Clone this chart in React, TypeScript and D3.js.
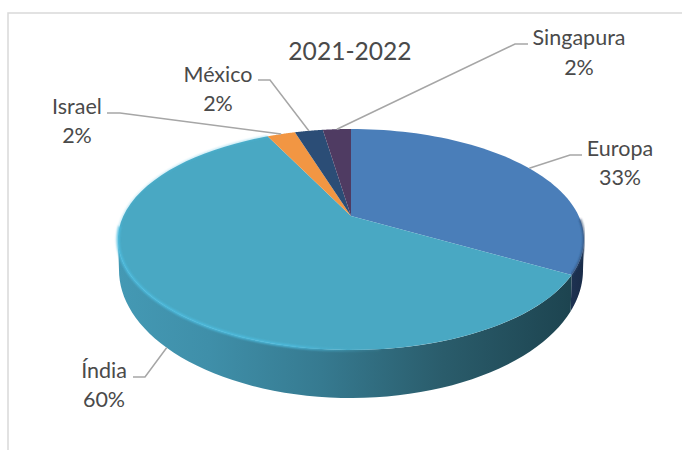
import React from "react";
import * as d3 from "d3";

const title = "2021-2022";
const categories = ["Europa", "Índia", "Israel", "México", "Singapura"];
const shares = [33.4, 59.6, 2.4, 2.4, 2.4];
const topColors = ["#4a7eb9", "#49a8c3", "#f29643", "#2b4d76", "#4f3b62"];

// Projection of a tilted disc: k sets the perspective foreshortening.
const k = 0.2126;
const cx = 351;
const topRing = { cy: 216, a: 227.7, b: 105.5 };
const lowRing = { cy: 242.8, a: 226.7, b: 122.2 };

type Ring = typeof topRing;
const project = (r: Ring, t: number): [number, number] => {
  const w = 1 + k * Math.cos(t);
  return [cx + (r.a * Math.sin(t)) / w, r.cy - (r.b * Math.cos(t)) / w];
};
const arcPoints = (r: Ring, t0: number, t1: number) =>
  d3.range(0, 61).map((i) => project(r, t0 + ((t1 - t0) * i) / 60));

const line = d3.line();
const pieAngles = d3.pie<number>().sort(null)(shares);
const fmtPct = (v: number) => `${Math.round(v)}%`;

const silhouetteRight = Math.acos(-k);
const silhouetteLeft = 2 * Math.PI - silhouetteRight;

const wall = (t0: number, t1: number) =>
  line([...arcPoints(topRing, t0, t1), ...arcPoints(lowRing, t1, t0)]) + "Z";

// Label placement and leader elbows for each slice.
const labelLayout = [
  { x: 620, y1: 156, y2: 185, elbow: [570, 155], end: [582, 155] },
  { x: 104, y1: 378, y2: 407, elbow: [145, 377], end: [133, 377] },
  { x: 77, y1: 114, y2: 143, elbow: [120, 113], end: [107, 113] },
  { x: 218, y1: 82, y2: 111, elbow: [270, 80], end: [258, 80] },
  { x: 579, y1: 45, y2: 75, elbow: [515, 44], end: [528, 44] },
];

export default function App() {
  const europa = pieAngles[0];
  return (
    <svg
      width={682}
      height={450}
      style={{ position: "absolute", left: 0, top: 0, background: "#fff" }}
      fontFamily="Lato, 'Open Sans', sans-serif"
    >
      <defs>
        <linearGradient id="wallIndia" gradientUnits="userSpaceOnUse" x1={118} x2={570} y1={0} y2={0}>
          <stop offset="0" stopColor="#4499b4" />
          <stop offset="0.2" stopColor="#3f8fa9" />
          <stop offset="0.45" stopColor="#367a90" />
          <stop offset="0.72" stopColor="#2a5c6b" />
          <stop offset="1" stopColor="#1d4450" />
        </linearGradient>
        <linearGradient id="wallEuropa" gradientUnits="userSpaceOnUse" x1={565} x2={584} y1={0} y2={0}>
          <stop offset="0" stopColor="#1f3556" />
          <stop offset="1" stopColor="#1a2c48" />
        </linearGradient>
        <linearGradient id="rimIndia" gradientUnits="userSpaceOnUse" x1={118} x2={370} y1={0} y2={0}>
          <stop offset="0" stopColor="#4dbde0" />
          <stop offset="0.7" stopColor="#4dbde0" />
          <stop offset="1" stopColor="#49a8c3" stopOpacity={0.2} />
        </linearGradient>
        <filter id="soft" x="-5%" y="-5%" width="110%" height="110%">
          <feGaussianBlur stdDeviation="0.8" />
        </filter>
      </defs>

      <path d="M682,13H8V450" fill="none" stroke="#d9d9d9" strokeWidth={1.5} />

      <path d={wall(silhouetteRight, europa.endAngle)} fill="url(#wallEuropa)" />
      <path d={wall(europa.endAngle, silhouetteLeft)} fill="url(#wallIndia)" />

      {pieAngles.map((s, i) => (
        <path
          key={categories[i]}
          d={line([[cx, topRing.cy], ...arcPoints(topRing, s.startAngle, s.endAngle)]) + "Z"}
          fill={topColors[i]}
        />
      ))}

      {/* Bevelled edges of the top face */}
      <path
        d={line(arcPoints(topRing, Math.PI - 0.1, silhouetteLeft + 0.12)) ?? ""}
        fill="none"
        stroke="url(#rimIndia)"
        strokeWidth={2.6}
        filter="url(#soft)"
      />
      <path
        d={line(arcPoints(topRing, silhouetteLeft + 0.12, pieAngles[1].endAngle)) ?? ""}
        fill="none"
        stroke="#4dbde0"
        strokeWidth={0.8}
        filter="url(#soft)"
      />
      <path
        d={line(arcPoints(topRing, 1.6, europa.endAngle)) ?? ""}
        fill="none"
        stroke="#2a4468"
        strokeWidth={1.6}
        filter="url(#soft)"
      />

      {pieAngles.map((s, i) => {
        const mid = (s.startAngle + s.endAngle) / 2;
        const anchor = i === 1 ? project(lowRing, 3.9) : project(topRing, mid);
        const lay = labelLayout[i];
        return (
          <g key={categories[i]}>
            <path
              d={line([anchor, lay.elbow as [number, number], lay.end as [number, number]]) ?? ""}
              fill="none"
              stroke="#a6a6a6"
              strokeWidth={1.5}
            />
            <text x={lay.x} y={lay.y1} textAnchor="middle" fontSize={21.5} fill="#4a4a4a">
              {categories[i]}
            </text>
            <text x={lay.x} y={lay.y2} textAnchor="middle" fontSize={21.5} fill="#4a4a4a">
              {fmtPct(s.value)}
            </text>
          </g>
        );
      })}

      <text x={350} y={60} textAnchor="middle" fontSize={24.6} fill="#4a4a4a">
        {title}
      </text>
    </svg>
  );
}
